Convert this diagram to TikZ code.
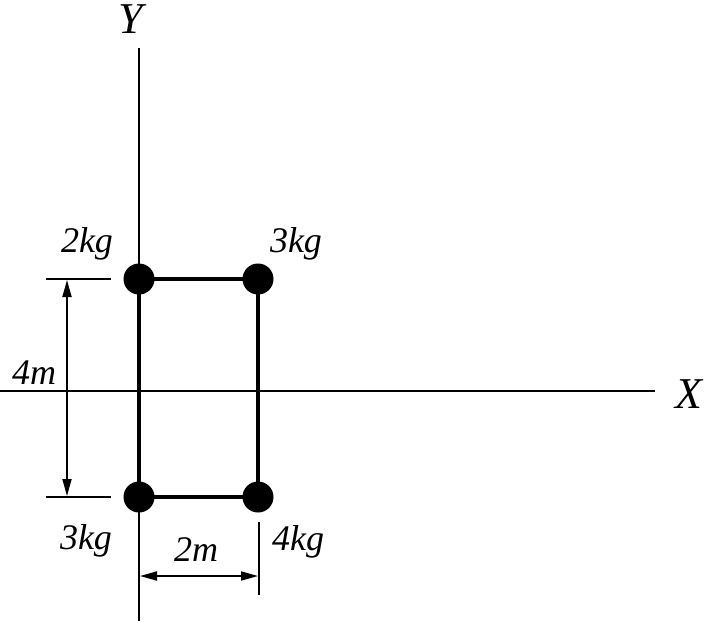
\documentclass[tikz,border=0pt]{standalone}
\usepackage{fontspec}
\setmainfont{Liberation Serif}
\usetikzlibrary{arrows.meta}
\begin{document}
\begin{tikzpicture}[x=1pt,y=-1pt,
  axis/.style={line width=2.2pt},
  frame/.style={line width=3.6pt},
  dim/.style={line width=1.8pt},
  tip/.tip={Triangle[length=17pt,width=9pt]},
  dimarrow/.style={line width=1.8pt,tip-tip},
  mass/.style={circle,fill=black,inner sep=0pt,minimum size=31pt},
  lab/.style={inner sep=0pt,font=\fontsize{36}{37}\selectfont\itshape},
  axlab/.style={inner sep=0pt,font=\fontsize{44}{46}\selectfont\itshape}]
\useasboundingbox (0,0) rectangle (708,621);
% axes
\coordinate (yt) at (139,48);
\coordinate (yb) at (139,621);
\coordinate (xl) at (0,391);
\coordinate (xr) at (655,391);
\draw[axis] (yt) -- (yb);
\draw[axis] (xl) -- (xr);
\node[axlab] (Y) at (131,19) {Y};
\node[axlab] (X) at (689,394) {X};
% masses
\node[mass] (a) at (139,279) {};
\node[mass] (b) at (258,279) {};
\node[mass] (c) at (139,497) {};
\node[mass] (d) at (258,497) {};
\draw[frame] (a.center) -- (b.center) -- (d.center) -- (c.center) -- cycle;
\node[lab] (la) at (87,244) {2kg};
\node[lab] (lb) at (296,244) {3kg};
\node[lab] (lc) at (86,541) {3kg};
\node[lab] (ld) at (298,542) {4kg};
% 4m dimension
\coordinate (t1l) at (46,279);
\coordinate (t1r) at (111,279);
\coordinate (t2l) at (46,497);
\coordinate (t2r) at (111,497);
\draw[dim] (t1l) -- (t1r);
\draw[dim] (t2l) -- (t2r);
\coordinate (v1) at (67,280);
\coordinate (v2) at (67,496);
\draw[dimarrow] (v1) -- (v2);
\node[lab] (l4m) at (34,373) {4m};
% 2m dimension
\coordinate (t3t) at (259,522);
\coordinate (t3b) at (259,595);
\draw[dim] (t3t) -- (t3b);
\coordinate (h1) at (140,576);
\coordinate (h2) at (258,576);
\draw[dimarrow] (h1) -- (h2);
\node[lab] (l2m) at (196,550) {2m};
\end{tikzpicture}
\end{document}
